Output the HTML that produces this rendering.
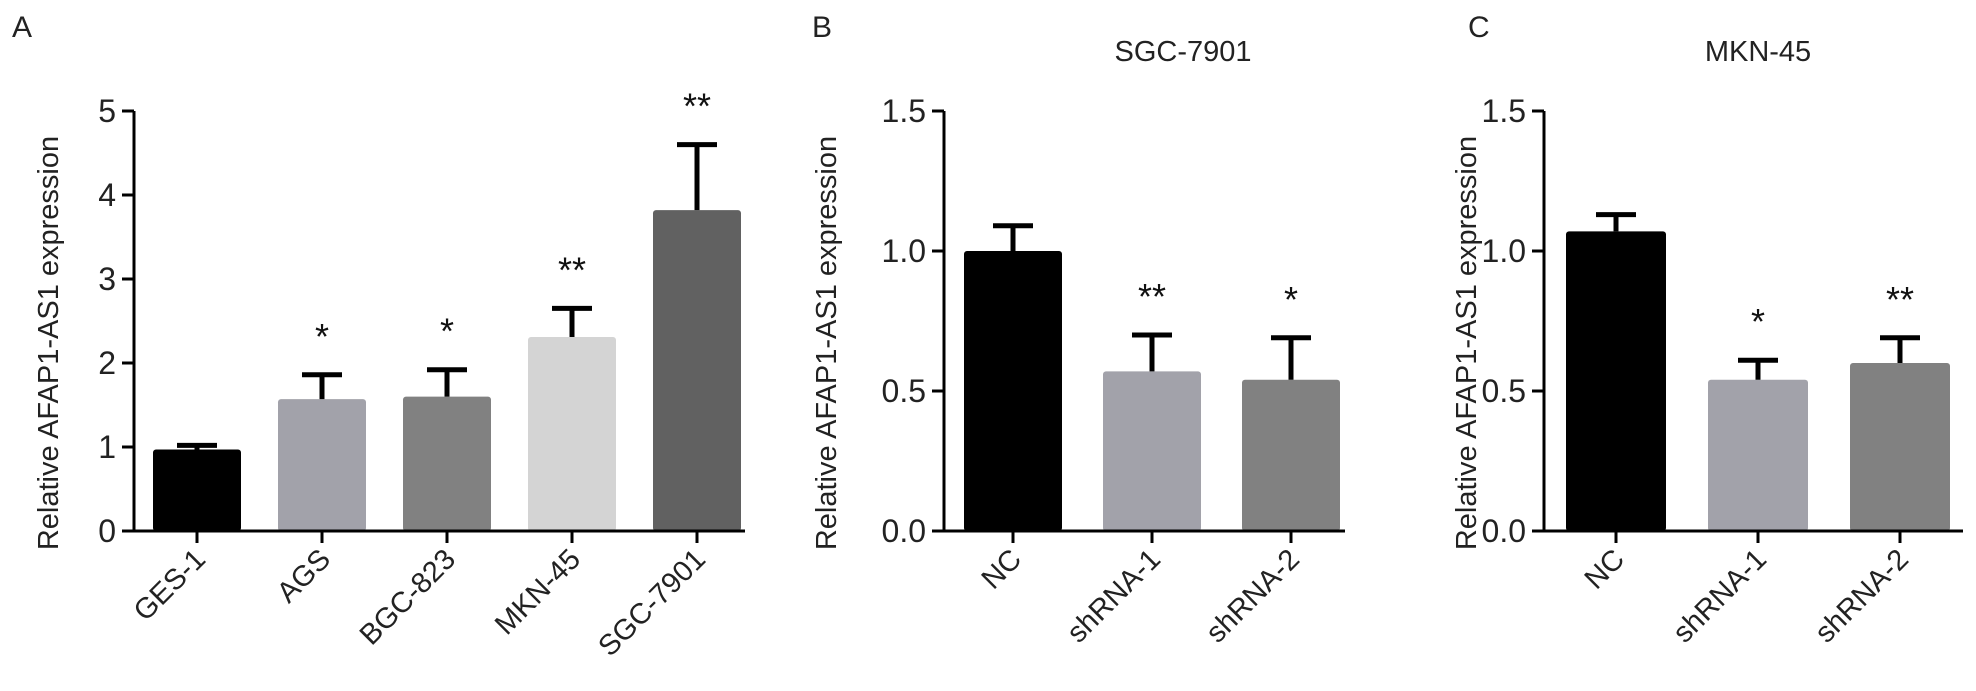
<!DOCTYPE html>
<html><head><meta charset="utf-8"><style>
html,body{margin:0;padding:0;background:#fff;}
svg{display:block;font-family:"Liberation Sans",Arial,sans-serif;}
</style></head><body>
<svg id="fig" width="1976" height="691" viewBox="0 0 1976 691"></svg>
<script>
const aCategories = ["GES-1","AGS","BGC-823","MKN-45","SGC-7901"];
const aValues = [0.97,1.57,1.60,2.31,3.82];
const aErrors = [0.05,0.29,0.32,0.34,0.78];
const aStars = ["","*","*","**","**"];
const aTicks = [0,1,2,3,4,5];
const aTickLabels = ["0","1","2","3","4","5"];

const bCategories = ["NC","shRNA-1","shRNA-2"];
const bValues = [1.00,0.57,0.54];
const bErrors = [0.09,0.13,0.15];
const bStars = ["","**","*"];
const bTicks = [0,0.5,1.0,1.5];
const bTickLabels = ["0.0","0.5","1.0","1.5"];

const cCategories = ["NC","shRNA-1","shRNA-2"];
const cValues = [1.07,0.54,0.60];
const cErrors = [0.06,0.07,0.09];
const cStars = ["","*","**"];
const cTicks = [0,0.5,1.0,1.5];
const cTickLabels = ["0.0","0.5","1.0","1.5"];

const NS="http://www.w3.org/2000/svg";
const svg=document.getElementById('fig');
function mk(tag,attrs,parent){const e=document.createElementNS(NS,tag);for(const k in attrs)e.setAttribute(k,attrs[k]);(parent||svg).appendChild(e);return e;}

function panel(cfg,cats,vals,errs,stars,ticks,tickLabels){
  const g=mk('g',{});
  
  
  const y0=531,yTop=111;
  const ymax=ticks[ticks.length-1];
  const ys=v=>y0-(v/ymax)*(y0-yTop);
  const xs=i=>cfg.first+i*cfg.step;
  const L=mk('text',{x:cfg.letterX,y:37,'font-size':30,fill:'#222'},g);L.textContent=cfg.letter;
  
  
  if(cfg.title){const t=mk('text',{x:cfg.titleX,y:61,'font-size':29,'text-anchor':'middle',fill:'#222'},g);t.textContent=cfg.title;
    
    }
  const yt=mk('text',{x:0,y:0,'font-size':29,'text-anchor':'middle',fill:'#222',transform:`translate(${cfg.ytitleX},${(y0+yTop)/2+22}) rotate(-90)`},g);
  yt.textContent='Relative AFAP1-AS1 expression';
  
  
  vals.forEach((v,i)=>{
    const cx=xs(i);
    const r=mk('rect',{x:cx-cfg.bw/2,y:ys(v),width:cfg.bw,height:y0-ys(v),rx:3,fill:cfg.colors[i]},g);
    
    
    const et=ys(v+errs[i]);
    const e=mk('path',{d:`M${cx},${ys(v)}V${et}M${cx-20},${et}H${cx+20}`,stroke:'#000','stroke-width':5,fill:'none'},g);
    
    
    if(stars[i]){const s=mk('text',{x:cx,y:et-26,'font-size':36,'text-anchor':'middle',fill:'#111'},g);s.textContent=stars[i];
      
      }
    const tk=mk('line',{x1:cx,x2:cx,y1:y0,y2:y0+12,stroke:'#000','stroke-width':3},g);
    
    
    const lb=mk('text',{x:0,y:0,'font-size':29,'text-anchor':'end',fill:'#222',transform:`translate(${cx+10},${y0+30}) rotate(-45)`},g);
    lb.textContent=cats[i];
    
    
  });
  const ax=mk('path',{d:`M${cfg.axisX},${yTop}V${y0}M${cfg.axisX-12},${y0}H${cfg.xEnd}`,stroke:'#000','stroke-width':3,fill:'none'},g);
  
  
  ticks.forEach((t,i)=>{
    const y=ys(t);
    const l=mk('line',{x1:cfg.axisX-12,x2:cfg.axisX,y1:y,y2:y,stroke:'#000','stroke-width':3},g);
    
    
    const tl=mk('text',{x:cfg.axisX-18,y:y+11,'font-size':32,'text-anchor':'end',fill:'#222'},g);
    tl.textContent=tickLabels[i];
    
    
  });
}
panel({name:'panel-a',letter:'A',letterX:12,axisX:134,first:197,step:125,bw:88,xEnd:745,ytitleX:58,
  colors:['#000','#a2a2aa','#818181','#d4d4d4','#616161']},aCategories,aValues,aErrors,aStars,aTicks,aTickLabels);
panel({name:'panel-b',letter:'B',letterX:812,axisX:944,first:1013,step:139,bw:98,xEnd:1345,ytitleX:836,title:'SGC-7901',titleX:1183,
  colors:['#000','#a2a2aa','#818181']},bCategories,bValues,bErrors,bStars,bTicks,bTickLabels);
panel({name:'panel-c',letter:'C',letterX:1468,axisX:1544,first:1616,step:142,bw:100,xEnd:1963,ytitleX:1476,title:'MKN-45',titleX:1758,
  colors:['#000','#a2a2aa','#818181']},cCategories,cValues,cErrors,cStars,cTicks,cTickLabels);
</script>
</body></html>
